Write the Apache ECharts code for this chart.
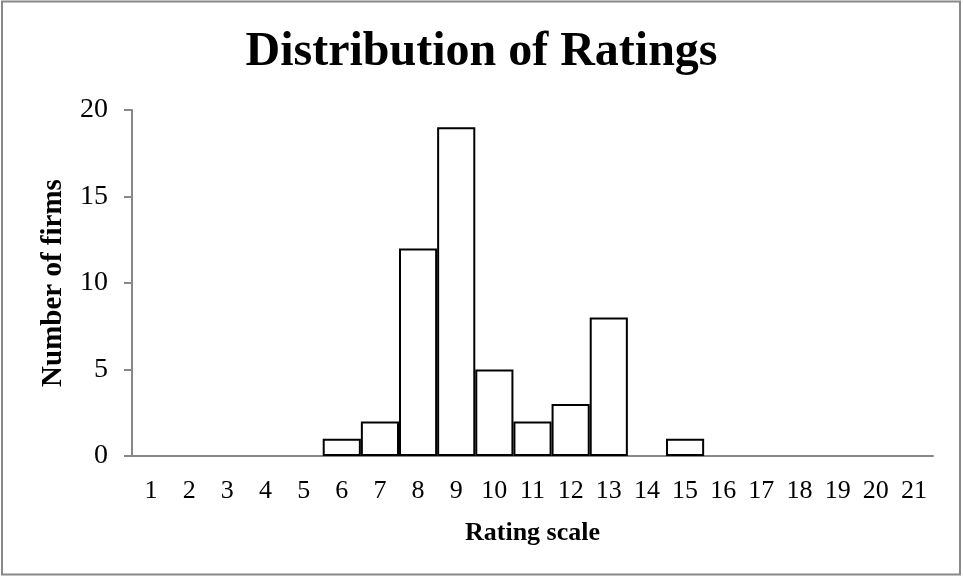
<!DOCTYPE html>
<html>
<head>
<meta charset="utf-8">
<script src="https://cdn.jsdelivr.net/npm/echarts@6/dist/echarts.min.js"></script>
<style>
html,body{margin:0;padding:0;background:#fff;}
#chart{width:963px;height:577px;}
</style>
</head>
<body>
<div id="chart"></div>
<script>
const categories = ['1','2','3','4','5','6','7','8','9','10','11','12','13','14','15','16','17','18','19','20','21'];
const firmCounts = [0,0,0,0,0,1,2,12,19,5,2,3,8,0,1,0,0,0,0,0,0];
const yTicks = [0,5,10,15,20];

const FONT = '"Liberation Serif", "Times New Roman", serif';
const barData = firmCounts.map(v => v === 0 ? {value: v, itemStyle: {borderWidth: 0, opacity: 0}} : v);
const chart = echarts.init(document.getElementById('chart'), null, {renderer:'canvas'});
chart.setOption({
  animation:false,
  backgroundColor:'#fff',
  title:{
    text:'Distribution of Ratings',
    left:'center', top:24,
    textStyle:{fontFamily:FONT,fontSize:48,fontWeight:'bold',color:'#000'}
  },
  graphic:[{
    type:'rect', silent:true,
    shape:{x:2,y:1.5,width:958,height:573},
    style:{fill:null,stroke:'#888',lineWidth:2}
  }],
  grid:{left:132,right:30,top:110,bottom:121,containLabel:false},
  xAxis:{
    type:'category', data:categories,
    name:'Rating scale', nameLocation:'middle', nameGap:64,
    nameTextStyle:{fontFamily:FONT,fontSize:26,fontWeight:'bold',color:'#000'},
    axisLine:{lineStyle:{color:'#888',width:2}},
    axisTick:{show:false},
    axisLabel:{fontFamily:FONT,fontSize:26,color:'#000',margin:22,interval:0}
  },
  yAxis:{
    type:'value', min:yTicks[0], max:yTicks[yTicks.length-1], interval:5,
    name:'Number of firms', nameLocation:'middle', nameGap:64,
    nameTextStyle:{fontFamily:FONT,fontSize:29,fontWeight:'bold',color:'#000'},
    axisLine:{show:true,lineStyle:{color:'#888',width:2}},
    axisTick:{show:true,length:8,lineStyle:{color:'#888',width:2}},
    splitLine:{show:false},
    axisLabel:{fontFamily:FONT,fontSize:28,color:'#000',margin:24}
  },
  series:[{
    type:'bar', data:barData,
    barCategoryGap:'0%',
    itemStyle:{color:'#fff',borderColor:'#000',borderWidth:2}
  }]
});
</script>
</body>
</html>
